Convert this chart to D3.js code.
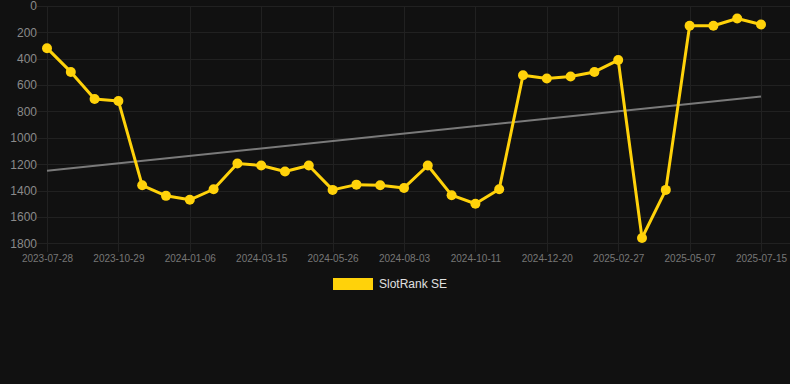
<!DOCTYPE html>
<html><head><meta charset="utf-8">
<script src="https://cdn.jsdelivr.net/npm/d3@7"></script>
<style>
html,body{margin:0;padding:0;background:#111111;}
svg{display:block;font-family:"Liberation Sans",Arial,Helvetica,sans-serif;}
</style></head>
<body><svg id="chart" width="790" height="384"></svg>
<script>
const categories = ["2023-07-28","2023-08-28","2023-09-28","2023-10-29","2023-11-21","2023-12-14","2024-01-06","2024-01-29","2024-02-21","2024-03-15","2024-04-08","2024-05-02","2024-05-26","2024-06-18","2024-07-11","2024-08-03","2024-08-26","2024-09-18","2024-10-11","2024-11-03","2024-11-27","2024-12-20","2025-01-12","2025-02-04","2025-02-27","2025-03-22","2025-04-14","2025-05-07","2025-05-30","2025-06-22","2025-07-15"];
const rankValues = [320,500,705,720,1360,1440,1470,1390,1195,1210,1255,1210,1395,1355,1360,1380,1210,1435,1500,1390,525,550,535,500,410,1760,1395,150,150,95,140];
const yTicks = [0,200,400,600,800,1000,1200,1400,1600,1800];
const seriesName = "SlotRank SE";

const svg = d3.select("#chart");
const x = d3.scalePoint().domain(categories).range([47, 761]);
const y = d3.scaleLinear().domain([0, 1800]).range([6, 243.3]);
const gridColor = "#212121";

// horizontal grid
svg.append("g").selectAll("line").data(yTicks).join("line")
  .attr("x1", 37).attr("x2", 790)
  .attr("y1", d => Math.round(y(d)) + 0.5).attr("y2", d => Math.round(y(d)) + 0.5)
  .attr("stroke", gridColor).attr("stroke-width", 1);

// vertical grid at shown ticks
const shown = categories.filter((d, i) => i % 3 === 0);
svg.append("g").selectAll("line").data(shown).join("line")
  .attr("x1", d => Math.round(x(d)) + 0.5).attr("x2", d => Math.round(x(d)) + 0.5)
  .attr("y1", 6).attr("y2", 252)
  .attr("stroke", gridColor).attr("stroke-width", 1);

// y axis labels
const yAxis = d3.axisLeft(y).tickValues(yTicks).tickFormat(d3.format("d")).tickSize(0).tickPadding(0);
const gy = svg.append("g").attr("transform", "translate(37,0)").call(yAxis);
gy.select(".domain").remove();
gy.selectAll("text").attr("fill", "#8a8a8a").attr("font-size", 12)
  .attr("font-family", "Liberation Sans, Arial, sans-serif");

// x axis labels
const xAxis = d3.axisBottom(x).tickValues(shown).tickSize(0).tickPadding(0);
const gx = svg.append("g").attr("transform", "translate(0,255)").call(xAxis);
gx.select(".domain").remove();
gx.selectAll("text").attr("fill", "#777777").attr("font-size", 10)
  .attr("dy", "0.71em").attr("font-family", "Liberation Sans, Arial, sans-serif");

// trend line (least squares)
const n = rankValues.length;
const mx = d3.mean(rankValues, (d, i) => i);
const my = d3.mean(rankValues);
const slope = d3.sum(rankValues, (d, i) => (i - mx) * (d - my)) / d3.sum(rankValues, (d, i) => (i - mx) * (i - mx));
const icpt = my - slope * mx;
svg.append("line")
  .attr("x1", x(categories[0])).attr("y1", y(icpt))
  .attr("x2", x(categories[n - 1])).attr("y2", y(icpt + slope * (n - 1)))
  .attr("stroke", "#7a7a7a").attr("stroke-width", 2);

// main line
const data = categories.map((c, i) => ({c, v: rankValues[i]}));
svg.append("path").datum(data)
  .attr("fill", "none").attr("stroke", "#FFD20A").attr("stroke-width", 3)
  .attr("stroke-linejoin", "round")
  .attr("d", d3.line().x(d => x(d.c)).y(d => y(d.v)));
svg.append("g").selectAll("circle").data(data).join("circle")
  .attr("cx", d => x(d.c)).attr("cy", d => y(d.v)).attr("r", 5)
  .attr("fill", "#FFD20A");

// legend
svg.append("rect").attr("x", 333).attr("y", 278).attr("width", 40).attr("height", 12)
  .attr("fill", "#FFD20A");
svg.append("text").attr("x", 379).attr("y", 284).attr("dy", "0.35em")
  .attr("fill", "#e0e0e0").attr("font-size", 12).text(seriesName);
</script></body></html>
